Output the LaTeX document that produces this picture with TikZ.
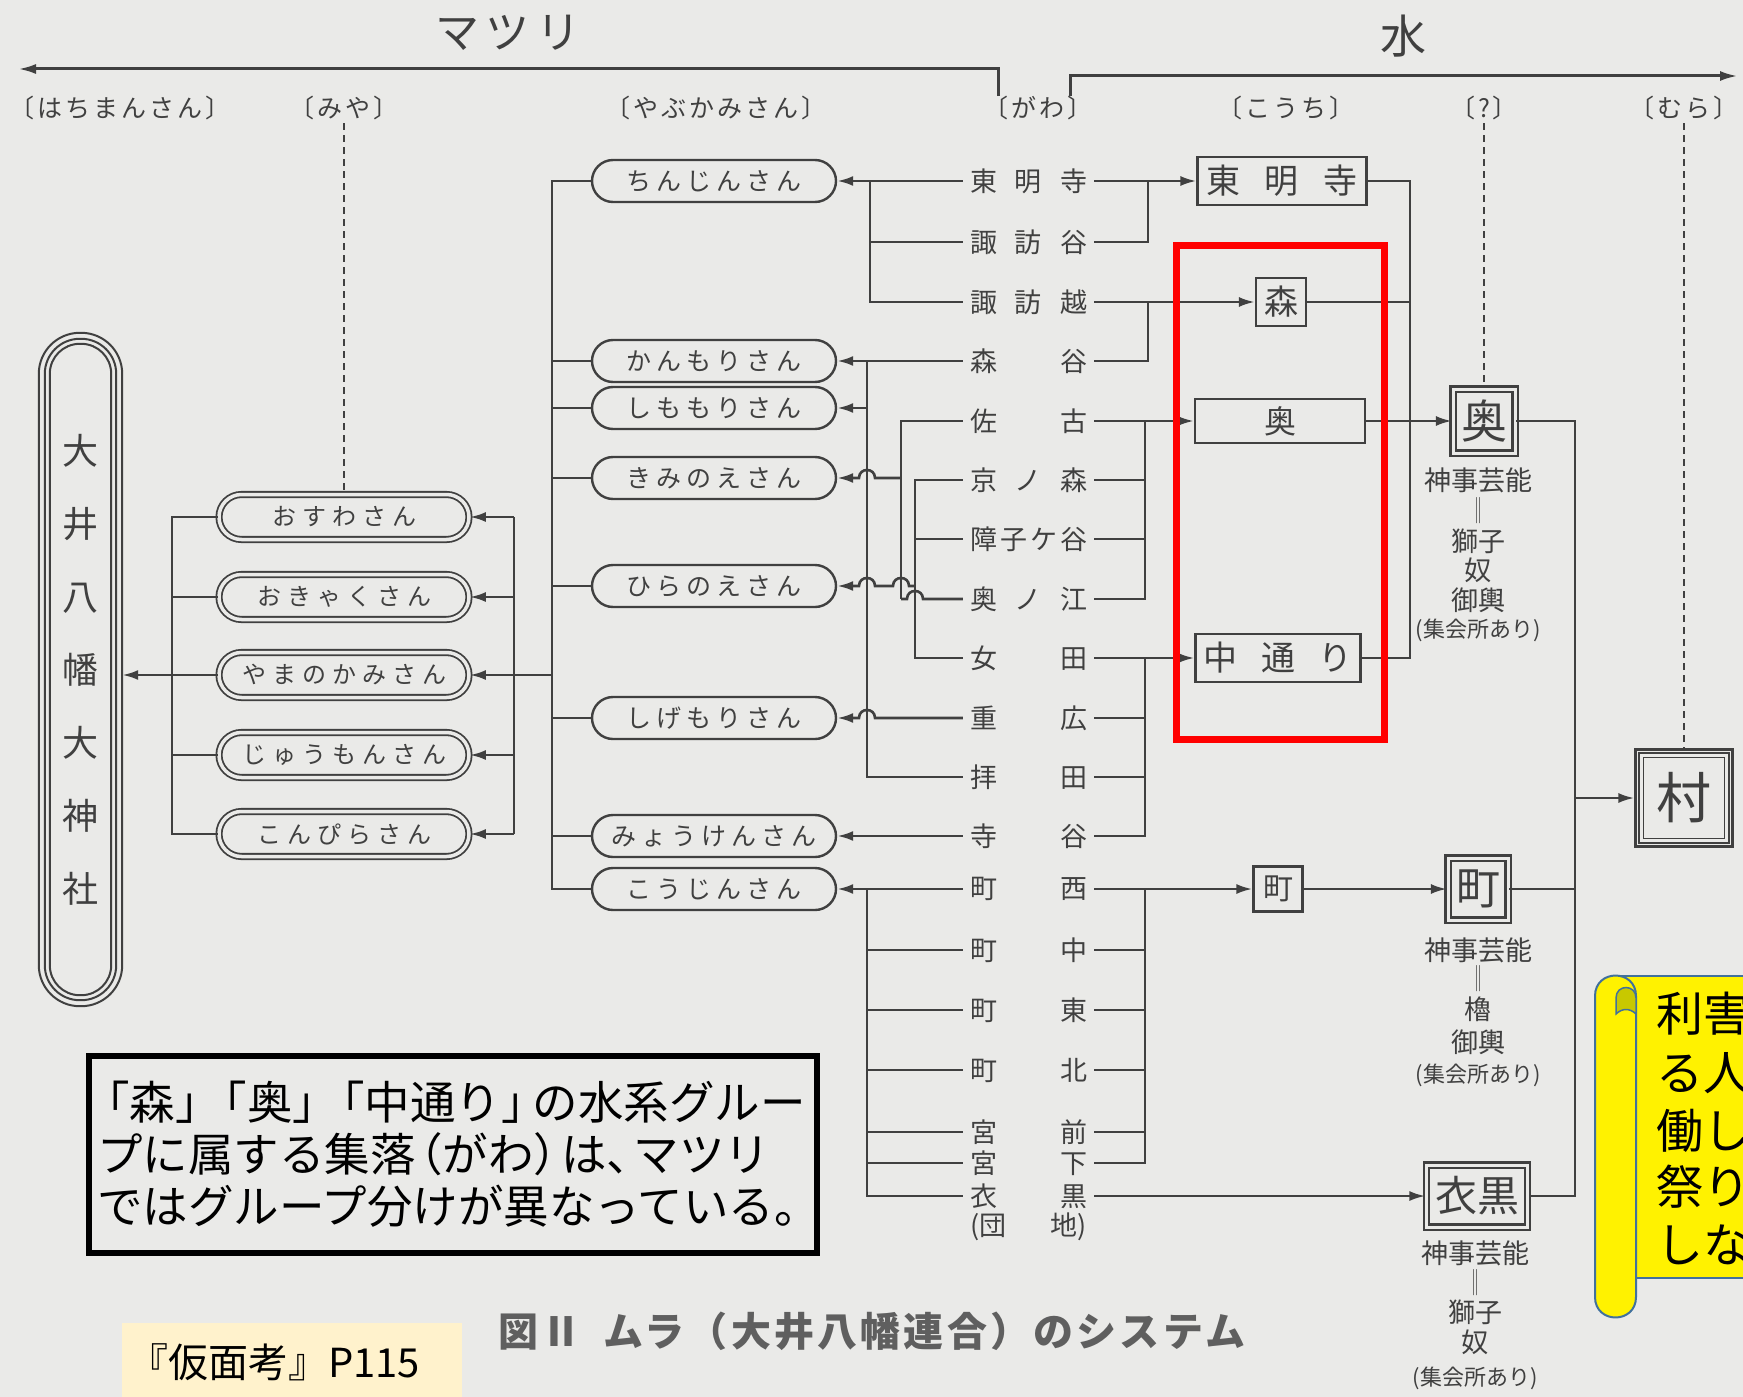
\documentclass[tikz,border=0pt]{standalone}
\usepackage{fontspec}
\usepackage{graphicx}
\setmainfont{Noto Sans CJK JP}
\newfontfamily\jp{Noto Sans CJK JP}
\newfontfamily\jpyab[LetterSpace=20]{Noto Sans CJK JP}
\newfontfamily\jpmiya[LetterSpace=25]{Noto Sans CJK JP}
\newfontfamily\jphead[LetterSpace=12]{Noto Sans CJK JP}
\newfontfamily\jptitle[LetterSpace=14]{Noto Sans CJK JP}
\newfontfamily\jpcap[LetterSpace=8]{Noto Sans CJK JP}
\usetikzlibrary{arrows.meta,shapes.misc}
\definecolor{paper}{RGB}{234,234,232}
\definecolor{ink}{RGB}{64,64,64}
\definecolor{capgray}{RGB}{95,95,95}
\definecolor{scrollB}{RGB}{65,113,156}
\definecolor{curlc}{RGB}{200,200,0}
\definecolor{cream}{RGB}{255,242,204}
\newcommand\fsz[1]{\fontsize{#1}{#1}\selectfont}
\newcommand\dbar{\scalebox{1}[1.3]{\fontsize{20}{20}\selectfont ‖}}
\begin{document}
\begin{tikzpicture}[x=1pt,y=-1pt,
  ln/.style={draw=ink,line width=2.6pt},
  arr/.style={ln,-{Latex[length=16pt,width=10pt]}},
  dsh/.style={draw=ink,line width=1.6pt,dash pattern=on 7pt off 5pt},
  gw/.style={font=\jp\fsz{27},text=ink,inner xsep=7pt,inner ysep=2pt},
  yab/.style={rounded rectangle,draw=ink,line width=2.4pt,minimum width=244pt,minimum height=42pt,inner sep=0pt,font=\jpyab\fsz{25},text=ink},
  miyan/.style={rounded rectangle,draw=ink,line width=1.8pt,double=paper,double distance=3.5pt,minimum width=250pt,minimum height=45pt,inner sep=0pt,font=\jpmiya\fsz{24},text=ink},
  kbox/.style={draw=ink,line width=2.2pt,inner sep=0pt,text=ink},
  dbox/.style={draw=ink,line width=2.2pt,double=paper,double distance=3pt,inner sep=0pt,text=ink},
  hd/.style={font=\jphead\fsz{25},text=ink},
  sub/.style={font=\jp\fsz{27},text=ink,inner sep=0pt},
  subs/.style={font=\jp\fsz{22},text=ink,inner sep=0pt}]
\fill[paper] (0,0) rectangle (1743,1397);
\useasboundingbox (0,0) rectangle (1743,1397);

% titles and headers
\node[font=\jptitle\fsz{44},text=ink] (tMatsuri) at (508,33) {マツリ};
\node[font=\jp\fsz{46},text=ink] (tMizu) at (1403,36) {水};
\node[hd] (hHachi) at (120,108) {〔はちまんさん〕};
\node[hd] (hMiya) at (344,108) {〔みや〕};
\node[hd] (hYabu) at (716,108) {〔やぶかみさん〕};
\node[hd] (hGawa) at (1038,108) {〔がわ〕};
\node[hd] (hKouchi) at (1286,108) {〔こうち〕};
\node[hd] (hQ) at (1484,108) {〔?〕};
\node[hd] (hMura) at (1684,108) {〔むら〕};

\coordinate (aL0) at (998,96); \coordinate (aL1) at (998,69); \coordinate (aL2) at (18,69);
\draw[ln,line width=3pt,-{Latex[length=18pt,width=10pt]}] (aL0) -- (aL1) -- (aL2);
\coordinate (aR0) at (1070,96); \coordinate (aR1) at (1070,76); \coordinate (aR2) at (1738,76);
\draw[ln,line width=3pt,-{Latex[length=18pt,width=10pt]}] (aR0) -- (aR1) -- (aR2);

% shrine
\node[minimum width=83pt,minimum height=673pt,inner sep=0pt,align=center,font=\jp\fontsize{36}{73}\selectfont,text=ink] (sh) at (80.5,669.5) {大\\井\\八\\幡\\大\\神\\社};
\draw[ink,line width=2pt,rounded corners=41pt] (sh.south west) rectangle (sh.north east);
\draw[ink,line width=2pt,rounded corners=35pt] ([shift={(6pt,6pt)}]sh.south west) rectangle ([shift={(-6pt,-6pt)}]sh.north east);
\draw[ink,line width=2pt,rounded corners=30pt] ([shift={(11pt,11pt)}]sh.south west) rectangle ([shift={(-11pt,-11pt)}]sh.north east);

% miya nodes
\node[miyan] (m1) at (344,517) {おすわさん};
\node[miyan] (m2) at (344,597) {おきゃくさん};
\node[miyan] (m3) at (344,675) {やまのかみさん};
\node[miyan] (m4) at (344,755) {じゅうもんさん};
\node[miyan] (m5) at (344,834) {こんぴらさん};

% yabukami nodes
\node[yab] (y1) at (714,181) {ちんじんさん};
\node[yab] (y2) at (714,361) {かんもりさん};
\node[yab] (y3) at (714,408) {しももりさん};
\node[yab] (y4) at (714,478) {きみのえさん};
\node[yab] (y5) at (714,586) {ひらのえさん};
\node[yab] (y6) at (714,718) {しげもりさん};
\node[yab] (y7) at (714,836) {みょうけんさん};
\node[yab] (y8) at (714,889) {こうじんさん};

% gawa nodes
\node[gw] (g1) at (1028.5,181) {\makebox[117pt]{東\hfill 明\hfill 寺}};
\node[gw] (g2) at (1028.5,242) {\makebox[117pt]{諏\hfill 訪\hfill 谷}};
\node[gw] (g3) at (1028.5,302) {\makebox[117pt]{諏\hfill 訪\hfill 越}};
\node[gw] (g4) at (1028.5,361) {\makebox[117pt]{森\hfill 谷}};
\node[gw] (g5) at (1028.5,421) {\makebox[117pt]{佐\hfill 古}};
\node[gw] (g6) at (1028.5,480) {\makebox[117pt]{京\hfill ノ\hfill 森}};
\node[gw] (g7) at (1028.5,539) {\makebox[117pt]{障\hfill 子\hfill ケ\hfill 谷}};
\node[gw] (g8) at (1028.5,599) {\makebox[117pt]{奥\hfill ノ\hfill 江}};
\node[gw] (g9) at (1028.5,658) {\makebox[117pt]{女\hfill 田}};
\node[gw] (g10) at (1028.5,718) {\makebox[117pt]{重\hfill 広}};
\node[gw] (g11) at (1028.5,777) {\makebox[117pt]{拝\hfill 田}};
\node[gw] (g12) at (1028.5,836) {\makebox[117pt]{寺\hfill 谷}};
\node[gw] (g13) at (1028.5,889) {\makebox[117pt]{町\hfill 西}};
\node[gw] (g14) at (1028.5,950) {\makebox[117pt]{町\hfill 中}};
\node[gw] (g15) at (1028.5,1010) {\makebox[117pt]{町\hfill 東}};
\node[gw] (g16) at (1028.5,1070) {\makebox[117pt]{町\hfill 北}};
\node[gw] (g17) at (1028.5,1132) {\makebox[117pt]{宮\hfill 前}};
\node[gw] (g18) at (1028.5,1163) {\makebox[117pt]{宮\hfill 下}};
\node[gw] (g19) at (1028.5,1196) {\makebox[117pt]{衣\hfill 黒}};
\node[gw] (g20) at (1028.5,1227) {\makebox[117pt]{(団\hfill 地)}};

% kouchi boxes
\node[kbox,minimum width=169pt,minimum height=48pt,font=\jp\fsz{34}] (k1) at (1282,181) {\makebox[151pt]{東\hfill 明\hfill 寺}};
\node[kbox,minimum width=50pt,minimum height=48pt,font=\jp\fsz{34}] (k2) at (1281,302) {森};
\node[kbox,minimum width=170pt,minimum height=44pt,font=\jp\fsz{32}] (k3) at (1280,421) {奥};
\node[kbox,minimum width=165pt,minimum height=48pt,font=\jp\fsz{34}] (k4) at (1278,658) {\makebox[149pt]{中\hfill 通\hfill り}};
\node[kbox,minimum width=49pt,minimum height=45pt,font=\jp\fsz{30}] (k5) at (1278,889) {町};

% double boxes
\node[dbox,minimum width=62pt,minimum height=64pt,font=\jp\fsz{46}] (d1) at (1484,421) {奥};
\node[dbox,minimum width=60pt,minimum height=62pt,font=\jp\fsz{44}] (d2) at (1478,889) {町};
\node[dbox,minimum width=101pt,minimum height=62pt,font=\jp\fsz{42}] (d3) at (1477,1196) {衣黒};
\node[draw=ink,line width=2.2pt,minimum size=97pt,inner sep=0pt,font=\jp\fsz{55},text=ink] (mu) at (1684,798) {村};
\draw[ink,line width=1.8pt,double=paper,double distance=2.5pt] ([shift={(7pt,7pt)}]mu.south west) rectangle ([shift={(-7pt,-7pt)}]mu.north east);

% texts under double boxes
\node[sub] (o1) at (1478,480) {神事芸能};
\node[sub] (o2) at (1478,511) {\dbar};
\node[sub] (o3) at (1478,541) {獅子};
\node[sub] (o4) at (1478,570) {奴};
\node[sub] (o5) at (1478,600) {御輿};
\node[subs] (o6) at (1478,630) {(集会所あり)};
\node[sub] (p1) at (1478,950) {神事芸能};
\node[sub] (p2) at (1478,979) {\dbar};
\node[sub] (p3) at (1478,1009) {櫓};
\node[sub] (p4) at (1478,1042) {御輿};
\node[subs] (p5) at (1478,1075) {(集会所あり)};
\node[sub] (q1) at (1475,1253) {神事芸能};
\node[sub] (q2) at (1475,1283) {\dbar};
\node[sub] (q3) at (1475,1312) {獅子};
\node[sub] (q4) at (1475,1342) {奴};
\node[subs] (q5) at (1475,1378) {(集会所あり)};

% dashed lines
\draw[dsh] (hMiya.south) -- (m1.north);
\draw[dsh] (hQ.south) -- (d1.north);
\draw[dsh] (hMura.south) -- (mu.north);

% miya buses
\coordinate (bLb) at (172,834);
\draw[ln] (m1.west) -| (bLb) -- (m5.west);
\foreach \m in {2,3,4} \draw[ln] (m\m.west) -- (m\m.west -| bLb);
\draw[arr] (m3.west -| bLb) -- (sh.east |- m3.west);
\coordinate (bMt) at (514,517); \coordinate (bMb) at (514,834);
\draw[ln] (bMt) -- (bMb);
\draw[arr] (bMt) -- (m1.east);
\draw[arr] (bMb) -- (m5.east);
\foreach \m in {2,4} \draw[arr] (m\m.east -| bMt) -- (m\m.east);

% yabukami bus
\coordinate (bY1) at (552,181); \coordinate (bY2) at (552,889); \coordinate (bYm) at (552,675);
\draw[ln] (y1.west) -| (bY2) -- (y8.west);
\foreach \y in {2,...,7} \draw[ln] (y\y.west) -- (y\y.west -| bY1);
\draw[arr] (bYm) -- (m3.east);

% gawa -> yabukami
\coordinate (cA) at (870,181);
\draw[arr] (g1.west) -- (y1.east);
\draw[ln] (g3.west) -| (cA);
\draw[ln] (g2.west) -- (g2.west -| cA);
\coordinate (cB) at (867,361);
\draw[arr] (g4.west) -- (y2.east);
\draw[ln] (g11.west) -| (cB);
\draw[arr] (cB |- y3.east) -- (y3.east);
\coordinate (cC) at (901,599); \coordinate (cCk) at (901,478);
\draw[ln] (g5.west) -| (cC);
\draw[ln] (g8.west) -- (923,599) .. controls (923,588.3) and (907,588.3) .. (907,599) -- (cC);
\draw[arr] (cCk) -- (875,478) .. controls (875,467.3) and (859,467.3) .. (859,478) -- (y4.east);
\coordinate (cD) at (915,480); \coordinate (cDb) at (915,658); \coordinate (cDh) at (915,586);
\draw[ln] (g6.west) -| (cDb) -- (g9.west);
\draw[ln] (g7.west) -- (g7.west -| cD);
\draw[arr] (cDh) -- (909,586) .. controls (909,575.3) and (893,575.3) .. (893,586) -- (875,586) .. controls (875,575.3) and (859,575.3) .. (859,586) -- (y5.east);
\draw[arr] (g10.west) -- (875,718) .. controls (875,707.3) and (859,707.3) .. (859,718) -- (y6.east);
\draw[arr] (g12.west) -- (y7.east);
\coordinate (cG) at (867,889);
\draw[arr] (g13.west) -- (y8.east);
\draw[ln] (g19.west) -| (cG);
\foreach \g in {14,...,18} \draw[ln] (g\g.west) -- (g\g.west -| cG);

% gawa -> kouchi
\coordinate (jA) at (1148,181); \coordinate (jB) at (1148,302);
\coordinate (jC) at (1145,421); \coordinate (jD) at (1145,658); \coordinate (jE) at (1145,889);
\draw[arr] (g1.east) -- (k1.west);
\draw[ln] (g2.east) -| (jA);
\draw[arr] (g3.east) -- (k2.west);
\draw[ln] (g4.east) -| (jB);
\draw[arr] (g5.east) -- (k3.west);
\draw[ln] (g8.east) -| (jC);
\foreach \g in {6,7} \draw[ln] (g\g.east) -- (g\g.east -| jC);
\draw[arr] (g9.east) -- (k4.west);
\draw[ln] (g12.east) -| (jD);
\foreach \g in {10,11} \draw[ln] (g\g.east) -- (g\g.east -| jD);
\draw[arr] (g13.east) -- (k5.west);
\draw[ln] (g18.east) -| (jE);
\foreach \g in {14,...,17} \draw[ln] (g\g.east) -- (g\g.east -| jE);
\draw[arr] (g19.east) -- (d3.west);

% kouchi -> ?
\coordinate (vT) at (1410,181); \coordinate (vB) at (1410,658);
\draw[ln] (k1.east) -- (vT) -- (vB) -- (k4.east);
\draw[ln] (k2.east) -- (k2.east -| vT);
\draw[arr] (k3.east) -- (d1.west);
\draw[arr] (k5.east) -- (d2.west);

% ? -> mura
\coordinate (wT) at (1575,421); \coordinate (wB) at (1575,1196); \coordinate (wM) at (1575,798);
\draw[ln] (d1.east) -- (wT) -- (wB) -- (d3.east);
\draw[ln] (d2.east) -- (d2.east -| wT);
\draw[arr] (wM) -- (mu.west);

% red frame
\node[draw=red,line width=7pt,minimum width=208pt,minimum height=494pt,inner sep=0pt] (redbox) at (1280,492) {};

% scroll
\begin{scope}
\clip (0,0) rectangle (1743,1397);
\filldraw[fill=yellow,draw=scrollB,line width=2pt] (1616,976) rectangle (1770,1278);
\filldraw[fill=yellow,draw=scrollB,line width=2pt] (1595,996) -- (1595,1297) .. controls (1595,1324.3) and (1636,1324.3) .. (1636,1297) -- (1636,996) .. controls (1636,968.7) and (1595,968.7) .. cycle;
\filldraw[fill=curlc,draw=scrollB,line width=1.5pt] (1616,1014) -- (1616,998) .. controls (1616,984) and (1636,984) .. (1636,998) -- (1636,1014) .. controls (1630,1008) and (1622,1008) .. cycle;
\node[anchor=west,font=\jp\fsz{47},inner sep=0pt] (s1) at (1656,1014) {利害};
\node[anchor=west,font=\jp\fsz{47},inner sep=0pt] (s2) at (1656,1073) {る人};
\node[anchor=west,font=\jp\fsz{47},inner sep=0pt] (s3) at (1656,1131) {働し};
\node[anchor=west,font=\jp\fsz{47},inner sep=0pt] (s4) at (1656,1187) {祭り};
\node[anchor=west,font=\jp\fsz{47},inner sep=0pt] (s5) at (1656,1245) {しな};
\end{scope}

% callout
\node[draw=black,line width=6pt,minimum width=728pt,minimum height=197pt,text width=712pt,inner xsep=8pt,inner ysep=0pt,align=left,font=\jp\fontsize{45.5}{52}\selectfont] (note) at (453,1154.5) {\kern-0.28em「森」\kern-0.42em「奥」\kern-0.42em「中通り」\kern-0.3em の水系グルー\\プに属する集落\kern-0.4em（がわ）\kern-0.4em は、\kern-0.4em マツリ\\ではグループ分けが異なっている。};

% caption
\node[anchor=west,text=capgray,font=\jpcap\bfseries\fsz{40},inner sep=0pt] (cap) at (498,1331) {図Ⅱ\hspace{22pt}ムラ（大井八幡連合）のシステム};

% source tag
\node[fill=cream,anchor=south west,minimum width=340pt,minimum height=74pt,inner sep=0pt] (srcbg) at (122,1397) {};
\node[anchor=west,font=\jp\fsz{40},inner sep=0pt] (src) at (128,1362) {『仮面考』P115};
\end{tikzpicture}
\end{document}
